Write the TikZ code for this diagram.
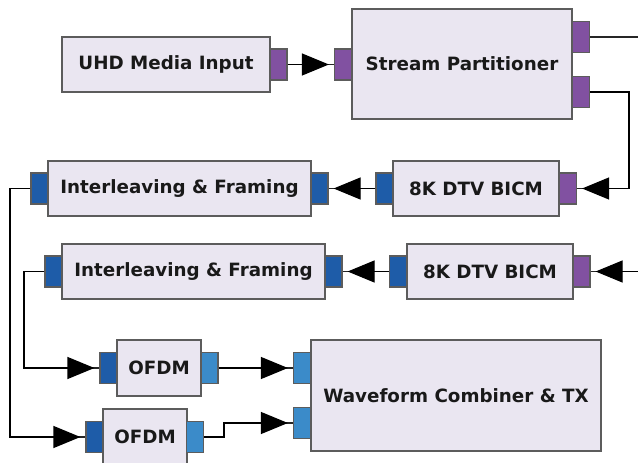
\documentclass[tikz,border=0pt]{standalone}
\usepackage{fontspec}
\setmainfont{DejaVu Sans}
\usetikzlibrary{arrows.meta}
\definecolor{boxfill}{HTML}{EAE6F1}
\definecolor{boxline}{HTML}{5C5C5C}
\definecolor{portpurple}{HTML}{8151A1}
\definecolor{portdark}{HTML}{1E5CA8}
\definecolor{portlight}{HTML}{3B8BC9}
\tikzset{
  block/.style={draw=boxline, fill=boxfill, line width=1.4bp, inner sep=0pt,
    font=\bfseries\fontsize{18.3bp}{21bp}\selectfont, text=black!90},
  port/.style={draw=boxline, line width=1.2bp, minimum width=17bp, minimum height=31bp, inner sep=0pt},
  pp/.style={port, fill=portpurple},
  pd/.style={port, fill=portdark},
  pl/.style={port, fill=portlight},
  wire/.style={draw=black!85, line width=1.2bp},
  arr/.style={wire, postaction={draw=black, shorten >=5bp, -{Triangle[length=27bp,width=22bp]}}}
}
\begin{document}
\begin{tikzpicture}[x=1bp, y=-1bp]
\useasboundingbox (0,0) rectangle (638,463);
% blocks
\node[block, minimum width=208bp, minimum height=55bp] (uhd) at (166,64.5) {UHD Media Input};
\node[block, minimum width=220bp, minimum height=110bp] (sp) at (462,64) {Stream Partitioner};
\node[block, minimum width=263bp, minimum height=55bp] (if1) at (179.5,188.5) {Interleaving \& Framing};
\node[block, minimum width=166bp, minimum height=55bp] (bicm1) at (476,188.5) {8K DTV BICM};
\node[block, minimum width=263bp, minimum height=55bp] (if2) at (193.5,271.5) {Interleaving \& Framing};
\node[block, minimum width=166bp, minimum height=55bp] (bicm2) at (490,271.5) {8K DTV BICM};
\node[block, minimum width=84bp, minimum height=56bp] (ofdm1) at (159,368) {OFDM};
\node[block, minimum width=84bp, minimum height=56bp] (ofdm2) at (145,437) {OFDM};
\node[block, minimum width=290bp, minimum height=111bp] (comb) at (456,395.5) {Waveform Combiner \& TX};
% ports
\node[pp] (uhdo) at (278.5,64.5) {};
\node[pp] (spi) at (343,64.5) {};
\node[pp] (spo1) at (581,37) {};
\node[pp] (spo2) at (581,92) {};
\node[pd] (b1o) at (384.5,188.5) {};
\node[pp] (b1i) at (568,188.5) {};
\node[pd] (if1o) at (39.5,188.5) {};
\node[pd] (if1i) at (319.5,188.5) {};
\node[pd] (if2o) at (53.5,271.5) {};
\node[pd] (if2i) at (333.5,271.5) {};
\node[pd] (b2o) at (398,271.5) {};
\node[pp] (b2i) at (581.5,271.5) {};
\node[pd] (o1i) at (108.5,368) {};
\node[pl] (o1o) at (209.5,368) {};
\node[pd] (o2i) at (94.5,437) {};
\node[pl] (o2o) at (195,437) {};
\node[pl] (ci1) at (302,368) {};
\node[pl] (ci2) at (302,423) {};
% free ends
\coordinate (e1) at (640,37);
\coordinate (e2) at (640,271.5);
% connectors
\draw[arr] (uhdo.east) -- (spi.west);
\draw[wire] (spo1.east) -- (e1);
\draw[arr] (spo2.east) -- (629,92) -- (629,188.5) -- (b1i.east);
\draw[arr] (b1o.west) -- (if1i.east);
\draw[arr] (e2) -- (b2i.east);
\draw[arr] (b2o.west) -- (if2i.east);
\draw[arr] (if2o.west) -- (24,271.5) -- (24,368) -- (o1i.west);
\draw[arr] (if1o.west) -- (10,188.5) -- (10,437) -- (o2i.west);
\draw[arr] (o1o.east) -- (ci1.west);
\draw[arr] (o2o.east) -- (224,437) -- (224,423) -- (ci2.west);
\end{tikzpicture}
\end{document}
